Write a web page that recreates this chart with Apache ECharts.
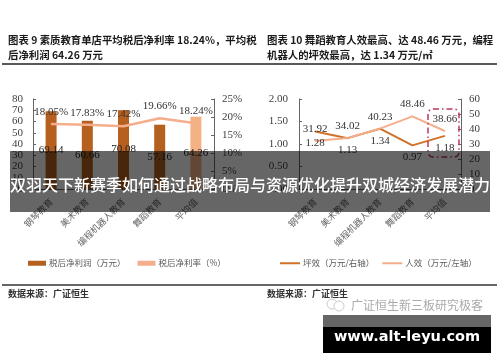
<!DOCTYPE html>
<html>
<head>
<meta charset="utf-8">
<style>
  html, body { margin: 0; padding: 0; background: #fff; }
  #chart { width: 500px; height: 362px; filter: blur(0.4px); }
</style>
<script src="https://cdn.jsdelivr.net/npm/echarts@6/dist/echarts.min.js"></script>
</head>
<body>
<div id="chart"></div>
<script>
  // left chart
  var leftCategories = ['钢琴教育', '美术教育', '编程机器人教育', '舞蹈教育', '平均值'];
  var netProfit = [69.14, 60.66, 70.08, 57.16, 64.26];
  var netMargin = [18.05, 17.83, 17.42, 19.66, 18.24];
  // right chart
  var rightCategories = ['钢琴教育', '美术教育', '编程机器人教育', '舞蹈教育', '平均值'];
  var pingXiao = [1.28, 1.13, 1.34, 0.97, 1.18];
  var renXiao = [31.92, 34.02, 40.23, 48.46, 38.66];

  var cjk = '"Noto Sans CJK SC", sans-serif';
  var serif = '"Liberation Serif", serif';
  var axisColor = '#666';
  var textColor = '#404040';

  function valueAxis(grid, max, interval, fmt, margin) {
    return {
      type: 'value',
      gridIndex: grid,
      min: 0,
      max: max,
      interval: interval,
      splitLine: { show: false },
      axisLine: { show: true, lineStyle: { color: axisColor, width: 1 } },
      axisTick: { show: true, inside: true, length: 3, lineStyle: { color: axisColor } },
      axisLabel: { color: textColor, fontFamily: serif, fontSize: 11, margin: margin, formatter: fmt }
    };
  }

  function catAxis(grid, data) {
    return {
      type: 'category',
      gridIndex: grid,
      data: data,
      axisLine: { lineStyle: { color: axisColor } },
      axisTick: { show: false },
      axisLabel: { color: '#666', fontFamily: cjk, fontSize: 9, rotate: 45, margin: 11, interval: 0 }
    };
  }

  function headline(text, left) {
    return {
      text: text,
      left: left,
      top: 33,
      padding: 0,
      textStyle: { color: '#1a1a1a', fontFamily: cjk, fontSize: 10.4, fontWeight: 'bold', lineHeight: 15 }
    };
  }

  function source(left) {
    return {
      text: '数据来源：广证恒生',
      left: left,
      top: 289,
      padding: 0,
      textStyle: { color: '#333', fontFamily: cjk, fontSize: 9, fontWeight: 'bold' }
    };
  }

  var option = {
    animation: false,
    backgroundColor: '#fff',
    title: [
      headline('图表 9 素质教育单店平均税后净利率 18.24%，平均税\n后净利润 64.26 万元', 8),
      headline('图表 10 舞蹈教育人效最高、达 48.46 万元，编程\n机器人的坪效最高，达 1.34 万元/㎡', 267),
      source(8),
      source(267)
    ],
    grid: [
      { left: 33, right: 286, top: 99, bottom: 173 },
      { left: 299, right: 39, top: 99, bottom: 173 }
    ],
    xAxis: [catAxis(0, leftCategories), catAxis(1, rightCategories)],
    yAxis: [
      valueAxis(0, 80, 10, '{value}', 10),
      valueAxis(0, 25, 5, '{value}%', 8),
      valueAxis(1, 2, 0.5, function (v) { return v.toFixed(2); }, 11),
      valueAxis(1, 60, 10, '{value}', 8)
    ],
    legend: [
      {
        left: 28, top: 259, padding: 0, itemWidth: 18, itemHeight: 5, itemGap: 12,
        data: [
          { name: '税后净利润（万元）', icon: 'rect' },
          { name: '税后净利率（%）', icon: 'rect' }
        ],
        textStyle: { color: '#595959', fontFamily: cjk, fontSize: 8.5, padding: [0, 0, 0, -2] }
      },
      {
        left: 280, top: 259, padding: 0, itemWidth: 20, itemHeight: 2, itemGap: 8,
        data: [
          { name: '坪效（万元/右轴）', icon: 'rect' },
          { name: '人效（万元/左轴）', icon: 'rect' }
        ],
        textStyle: { color: '#595959', fontFamily: cjk, fontSize: 8.5, padding: [0, 0, 0, -2] }
      }
    ],
    series: [
      {
        name: '税后净利润（万元）',
        type: 'bar',
        xAxisIndex: 0,
        yAxisIndex: 0,
        barWidth: 11,
        // last bar is the average, lighter colour
        data: netProfit.map(function (v, i) {
          return i === netProfit.length - 1 ? { value: v, itemStyle: { color: '#F4B183' } } : v;
        }),
        itemStyle: { color: '#B5601F' },
        label: { show: true, position: 'inside', color: '#222', fontFamily: serif, fontSize: 11 }
      },
      {
        name: '税后净利率（%）',
        type: 'line',
        xAxisIndex: 0,
        yAxisIndex: 1,
        data: netMargin,
        symbol: 'circle',
        symbolSize: 1,
        lineStyle: { color: '#F4AE8C', width: 2.5 },
        itemStyle: { color: '#F4AE8C' },
        label: {
          show: true, position: 'top', distance: 6, color: '#333', fontFamily: serif, fontSize: 11,
          formatter: function (p) { return p.value.toFixed(2) + '%'; }
        }
      },
      {
        name: '坪效（万元/右轴）',
        type: 'line',
        xAxisIndex: 1,
        yAxisIndex: 2,
        data: pingXiao,
        symbol: 'circle',
        symbolSize: 1,
        lineStyle: { color: '#D0722A', width: 2 },
        itemStyle: { color: '#D0722A' },
        label: {
          show: true, position: 'bottom', distance: 6, color: '#333', fontFamily: serif, fontSize: 11,
          formatter: function (p) { return p.value.toFixed(2); }
        }
      },
      {
        name: '人效（万元/左轴）',
        type: 'line',
        xAxisIndex: 1,
        yAxisIndex: 3,
        data: renXiao,
        symbol: 'circle',
        symbolSize: 1,
        lineStyle: { color: '#F4AE8C', width: 2 },
        itemStyle: { color: '#F4AE8C' },
        label: {
          show: true, position: 'top', distance: 6, color: '#333', fontFamily: serif, fontSize: 11,
          formatter: function (p) { return p.value.toFixed(2); }
        }
      }
    ],
    graphic: [
      // rules under the headings and above the sources
      { type: 'line', z: 10, shape: { x1: 2, y1: 64, x2: 497, y2: 64 }, style: { stroke: '#222', lineWidth: 1.5 } },
      { type: 'line', z: 10, shape: { x1: 2, y1: 285, x2: 497, y2: 285 }, style: { stroke: '#333', lineWidth: 1.5 } },
      // red box around the average
      {
        type: 'rect', z: 10,
        shape: { x: 428, y: 109, width: 31, height: 48, r: 5 },
        style: { fill: 'none', stroke: '#C0395A', lineWidth: 1.5, lineDash: [6, 3, 1.5, 3] }
      },
      // watermark
      { type: 'circle', z: 10, shape: { cx: 332, cy: 304, r: 5 }, style: { fill: 'none', stroke: '#ccc', lineWidth: 1 } },
      { type: 'circle', z: 10, shape: { cx: 339, cy: 306, r: 5 }, style: { fill: '#fff', stroke: '#ccc', lineWidth: 1 } },
      {
        type: 'text', z: 10, x: 351, y: 305,
        style: { text: '广证恒生新三板研究极客', fill: '#aaa', font: '12px "Noto Sans CJK SC"', verticalAlign: 'middle' }
      },
      // banner over the charts
      { type: 'rect', z: 100, shape: { x: 10, y: 151, width: 480, height: 61 }, style: { fill: 'rgba(0,0,0,0.6)' } },
      {
        type: 'text', z: 101, x: 250, y: 185,
        style: {
          text: '双羽天下新赛季如何通过战略布局与资源优化提升双城经济发展潜力',
          fill: '#fff', font: '500 16px "Noto Sans CJK SC"', align: 'center', verticalAlign: 'middle'
        }
      },
      // site strip bottom right
      { type: 'rect', z: 100, shape: { x: 323, y: 315, width: 168, height: 12 }, style: { fill: '#666' } },
      { type: 'rect', z: 100, shape: { x: 323, y: 327, width: 168, height: 26 }, style: { fill: '#000' } },
      {
        type: 'text', z: 101, x: 407, y: 337,
        style: {
          text: 'www.alt-leyu.com', fill: '#fff', font: 'bold 14.5px "DejaVu Sans"',
          align: 'center', verticalAlign: 'middle'
        }
      }
    ]
  };

  var chart = echarts.init(document.getElementById('chart'));
  chart.setOption(option);
</script>
</body>
</html>
